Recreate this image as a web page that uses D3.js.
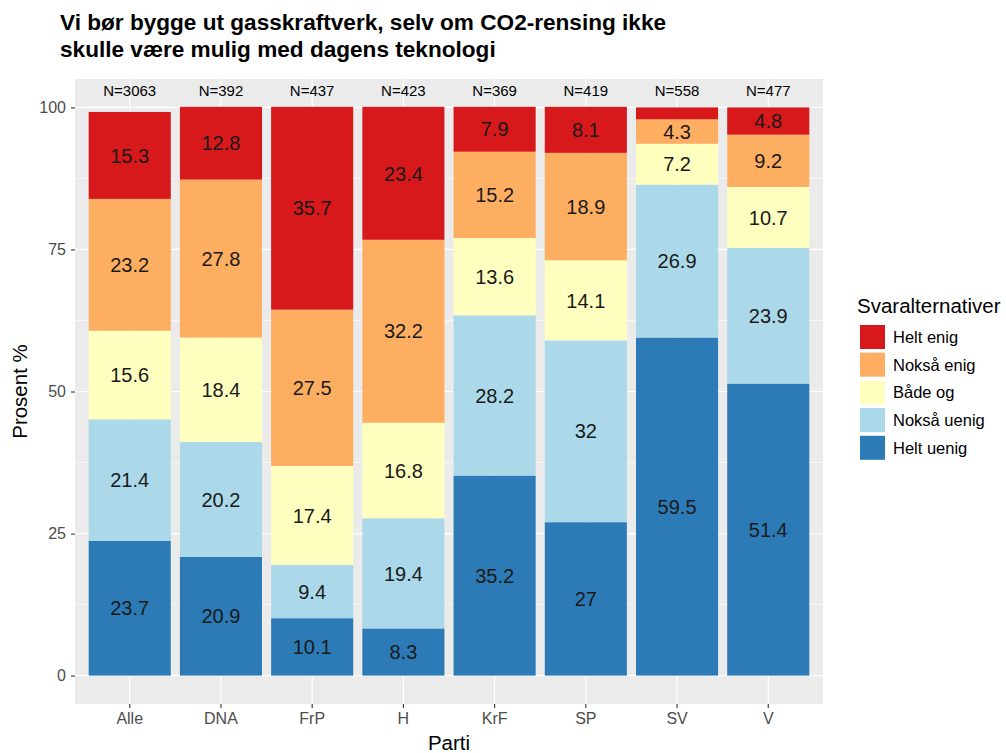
<!DOCTYPE html>
<html>
<head>
<meta charset="utf-8">
<style>
  body { margin: 0; background: #fff; }
  svg { font-family: "Liberation Sans", Arial, sans-serif; }
</style>
</head>
<body>
<script src="https://cdnjs.cloudflare.com/ajax/libs/d3/7.8.5/d3.min.js"></script>
<script>
// data
var parties = ["Alle", "DNA", "FrP", "H", "KrF", "SP", "SV", "V"];
var counts = [3063, 392, 437, 423, 369, 419, 558, 477];
var answers = ["Helt enig", "Nokså enig", "Både og", "Nokså uenig", "Helt uenig"];
var colors = ["#d7191c", "#fdae61", "#ffffbf", "#abd9e9", "#2c7bb6"];
// one array per answer, in party order
var heltEnig   = [15.3, 12.8, 35.7, 23.4, 7.9, 8.1, 2.1, 4.8];
var noksaEnig  = [23.2, 27.8, 27.5, 32.2, 15.2, 18.9, 4.3, 9.2];
var badeOg     = [15.6, 18.4, 17.4, 16.8, 13.6, 14.1, 7.2, 10.7];
var noksaUenig = [21.4, 20.2, 9.4, 19.4, 28.2, 32, 26.9, 23.9];
var heltUenig  = [23.7, 20.9, 10.1, 8.3, 35.2, 27, 59.5, 51.4];
var yTicks = [0, 25, 50, 75, 100];

var series = [heltEnig, noksaEnig, badeOg, noksaUenig, heltUenig];

var W = 1006, H = 753;
var panel = {left: 75, top: 79, right: 823, bottom: 704};

var svg = d3.select("body").append("svg")
  .attr("width", W).attr("height", H);

// title
var title = svg.append("text")
  .attr("x", 60).attr("y", 30)
  .attr("font-size", "22.6px").attr("font-weight", "bold").attr("fill", "#000");
title.append("tspan").attr("x", 60).attr("y", 30)
  .text("Vi bør bygge ut gasskraftverk, selv om CO2-rensing ikke");
title.append("tspan").attr("x", 60).attr("y", 57)
  .text("skulle være mulig med dagens teknologi");

// scales
var x = d3.scaleBand().domain(parties)
  .range([panel.left, panel.right]).paddingInner(0.1).paddingOuter(0.15);
var y = d3.scaleLinear().domain([-5, 105]).range([panel.bottom, panel.top]);

// panel background + grid
svg.append("rect")
  .attr("x", panel.left).attr("y", panel.top)
  .attr("width", panel.right - panel.left).attr("height", panel.bottom - panel.top)
  .attr("fill", "#ebebeb");

var minor = [12.5, 37.5, 62.5, 87.5];
svg.append("g").selectAll("line").data(minor).enter().append("line")
  .attr("x1", panel.left).attr("x2", panel.right)
  .attr("y1", function(d){ return y(d); }).attr("y2", function(d){ return y(d); })
  .attr("stroke", "#fff").attr("stroke-width", 0.6);
svg.append("g").selectAll("line").data(yTicks).enter().append("line")
  .attr("x1", panel.left).attr("x2", panel.right)
  .attr("y1", function(d){ return y(d); }).attr("y2", function(d){ return y(d); })
  .attr("stroke", "#fff").attr("stroke-width", 1.2);
svg.append("g").selectAll("line").data(parties).enter().append("line")
  .attr("y1", panel.top).attr("y2", panel.bottom)
  .attr("x1", function(d){ return x(d) + x.bandwidth() / 2; })
  .attr("x2", function(d){ return x(d) + x.bandwidth() / 2; })
  .attr("stroke", "#fff").attr("stroke-width", 1.2);

// stacked data
var rows = parties.map(function(p, i) {
  var r = {party: p};
  answers.forEach(function(a, j){ r[a] = series[j][i]; });
  return r;
});
// stack from the bottom: Helt uenig first
var stackOrder = answers.slice().reverse();
var stacked = d3.stack().keys(stackOrder)(rows);

var layers = svg.append("g").selectAll("g").data(stacked).enter().append("g")
  .attr("fill", function(d){ return colors[answers.indexOf(d.key)]; });

layers.selectAll("rect").data(function(d){ return d; }).enter().append("rect")
  .attr("x", function(d){ return x(d.data.party); })
  .attr("width", x.bandwidth())
  .attr("y", function(d){ return y(d[1]); })
  .attr("height", function(d){ return y(d[0]) - y(d[1]); });

// value labels (tiny segments left unlabelled, as in the original)
stacked.forEach(function(layer) {
  svg.append("g").selectAll("text")
    .data(layer.filter(function(d){ return d[1] - d[0] >= 3; }))
    .enter().append("text")
    .attr("x", function(d){ return x(d.data.party) + x.bandwidth() / 2; })
    .attr("y", function(d){ return y((d[0] + d[1]) / 2); })
    .attr("dy", "0.36em")
    .attr("text-anchor", "middle")
    .attr("font-size", "20px")
    .attr("fill", "#1a1a1a")
    .text(function(d){ return d.data[layer.key]; });
});

// N labels
svg.append("g").selectAll("text").data(parties).enter().append("text")
  .attr("x", function(d){ return x(d) + x.bandwidth() / 2; })
  .attr("y", y(103))
  .attr("dy", "0.35em")
  .attr("text-anchor", "middle")
  .attr("font-size", "15px").attr("fill", "#000")
  .text(function(d, i){ return "N=" + counts[i]; });

// axes
var yAxis = svg.append("g")
  .attr("transform", "translate(" + panel.left + ",0)")
  .call(d3.axisLeft(y).tickValues(yTicks).tickSize(4).tickPadding(5));
var xAxis = svg.append("g")
  .attr("transform", "translate(0," + panel.bottom + ")")
  .call(d3.axisBottom(x).tickSize(4).tickPadding(5));
[yAxis, xAxis].forEach(function(a) {
  a.select(".domain").remove();
  a.selectAll(".tick line").attr("stroke", "#333").attr("stroke-width", 1.1);
  a.selectAll(".tick text").attr("fill", "#4d4d4d").attr("font-size", "16px")
    .attr("font-family", "Liberation Sans, Arial, sans-serif");
});

// axis titles
svg.append("text")
  .attr("x", (panel.left + panel.right) / 2).attr("y", 750)
  .attr("text-anchor", "middle").attr("font-size", "20.5px").text("Parti");
svg.append("text")
  .attr("transform", "translate(27," + ((panel.top + panel.bottom) / 2) + ") rotate(-90)")
  .attr("text-anchor", "middle").attr("font-size", "20.5px").text("Prosent %");

// legend
var lg = svg.append("g").attr("transform", "translate(857,0)");
lg.append("text").attr("x", 0).attr("y", 313)
  .attr("font-size", "20.5px").text("Svaralternativer");
var items = lg.selectAll("g.item").data(answers).enter().append("g")
  .attr("class", "item")
  .attr("transform", function(d, i){ return "translate(0," + (325 + i * 27.7) + ")"; });
items.append("rect").attr("x", 3).attr("y", 0).attr("width", 25).attr("height", 24)
  .attr("fill", function(d, i){ return colors[i]; });
items.append("text").attr("x", 36).attr("y", 12).attr("dy", "0.36em")
  .attr("font-size", "16.5px").text(function(d){ return d; });
</script>
</body>
</html>
